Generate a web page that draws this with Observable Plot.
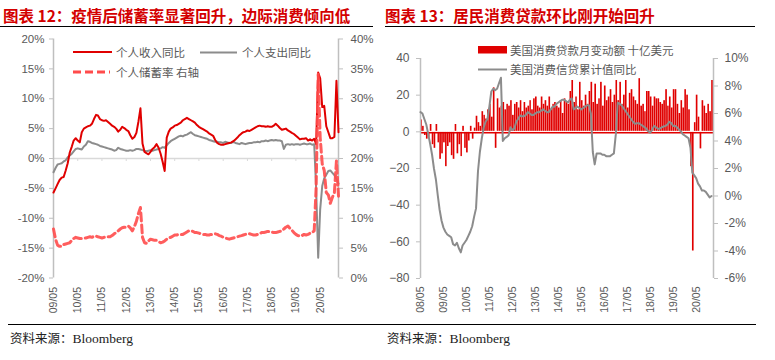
<!DOCTYPE html>
<html><head><meta charset="utf-8">
<script src="https://cdn.jsdelivr.net/npm/d3@7"></script>
<script src="https://cdn.jsdelivr.net/npm/@observablehq/plot@0.6"></script>
<style>
html,body{margin:0;padding:0;background:#fff;}
body{width:775px;height:360px;position:relative;overflow:hidden;font-family:"Liberation Sans","Noto Sans CJK SC",sans-serif;}
.abs{position:absolute;}
.title{position:absolute;top:6px;font-family:"Noto Sans CJK SC",sans-serif;font-weight:700;font-size:15.5px;color:#d40000;white-space:nowrap;line-height:18px;}
.tline{position:absolute;top:26px;height:0;border-top:1.5px solid #000;}
.foot{position:absolute;top:330px;font-size:12.5px;color:#222;white-space:nowrap;line-height:16px;}
.foot .cn{font-family:"Noto Sans CJK SC",serif;}
.foot .en{font-family:"Liberation Serif",serif;font-size:13.5px;}
.leg{position:absolute;font-family:"Noto Sans CJK SC","Liberation Sans",sans-serif;font-size:11.5px;color:#595959;white-space:nowrap;line-height:14px;}
svg.sw{position:absolute;overflow:visible;}
</style></head>
<body>
<div class="title" style="left:3px">图表 12：疫情后储蓄率显著回升，边际消费倾向低</div>
<div class="tline" style="left:0;width:373px"></div>
<div class="title" style="left:385px">图表 13：居民消费贷款环比刚开始回升</div>
<div class="tline" style="left:385px;width:370px"></div>
<div id="left" class="abs" style="left:0;top:30px"></div>
<div id="right" class="abs" style="left:385px;top:30px"></div>
<div class="tline" style="left:8px;width:748px;top:324px;border-top:1px solid #000"></div>
<div class="foot" style="left:10px"><span class="cn">资料来源：</span><span class="en">Bloomberg</span></div>
<div class="foot" style="left:387px"><span class="cn">资料来源：</span><span class="en">Bloomberg</span></div>
<script>
// ---------- Chart 12 data: monthly, starting 2009-05 ----------
const incomeYoY = [
-5.7,-5.0,-4.3,-3.6,-3.2,-3.1,-2.0,-0.8,1.0,2.0,
3.0,3.4,3.0,2.7,4.4,5.0,5.2,5.4,5.5,5.8,
6.6,7.3,7.2,6.6,6.4,6.3,6.4,6.1,5.8,5.5,
5.3,5.0,4.5,4.8,5.3,5.1,4.8,4.6,3.9,3.3,
3.6,4.3,6.2,8.4,2.5,1.1,0.9,0.7,1.1,1.6,
1.9,2.4,1.8,0.8,-0.6,-2.1,3.5,4.5,5.0,5.2,
5.5,5.6,5.8,6.0,6.4,6.6,6.8,6.6,6.4,6.2,
6.0,5.6,5.3,5.1,4.9,4.7,4.5,4.2,4.0,3.8,
3.1,2.6,2.4,2.3,2.3,2.4,2.5,2.6,2.7,2.9,
3.2,3.5,3.9,4.2,4.4,4.5,4.7,4.6,4.8,5.0,
5.2,5.4,5.5,5.4,5.4,5.3,5.4,5.3,5.3,5.5,
5.8,5.5,5.1,4.8,4.9,5.0,4.7,4.5,4.3,4.1,
3.8,3.5,3.2,3.3,3.3,3.4,3.0,3.2,3.0,3.3,
2.4,14.4,13.4,8.6,8.8,5.4,4.4,3.4,3.4,3.6,
13.0,4.4];
const spendingYoY = [
-2.3,-1.6,-1.0,-0.9,-0.8,-0.5,-0.3,0.2,0.5,0.8,
1.2,1.6,1.7,1.6,1.5,2.0,2.3,2.9,2.8,2.6,
2.5,2.4,2.3,2.1,2.0,1.9,1.8,1.7,1.6,1.5,
1.3,1.4,1.8,1.6,1.5,1.4,1.3,1.3,1.4,1.3,
1.4,1.6,1.6,1.5,1.4,1.3,1.2,1.3,1.4,1.3,
1.4,1.5,1.6,1.7,1.9,1.8,2.2,2.6,2.9,3.1,
3.3,3.5,3.7,3.8,3.7,3.9,4.0,4.2,4.4,4.1,
3.9,3.8,3.7,3.6,3.5,3.4,3.3,3.1,3.0,2.9,
2.8,2.8,2.7,2.7,2.6,2.8,2.7,2.6,2.6,2.8,
2.6,2.5,2.4,2.6,2.5,2.4,2.5,2.6,2.6,2.7,
2.7,2.8,2.7,2.9,2.9,3.0,2.9,3.0,3.1,3.0,
3.1,3.0,3.0,2.9,1.6,2.3,2.4,2.3,2.4,2.3,
2.4,2.4,2.3,2.4,2.5,2.4,2.4,2.5,2.3,2.4,
-5.0,-16.6,-8.5,-4.6,-3.3,-2.7,-2.1,-2.0,-2.4,-2.8,
-3.4,-4.2];
const savingRate = [
8.2,6.5,5.5,5.3,5.3,5.6,5.7,5.8,5.9,6.3,
6.6,6.8,6.7,6.6,6.6,6.7,6.7,6.8,6.9,6.8,
7.0,7.0,6.9,6.8,6.7,6.8,6.9,6.9,6.9,7.1,
7.4,7.6,7.9,8.2,8.4,8.5,8.5,8.7,8.4,7.9,
8.6,9.5,10.8,11.8,6.8,5.9,5.8,6.2,6.5,6.4,
6.3,6.3,6.1,5.9,6.0,6.2,6.5,6.7,6.8,7.0,
7.2,7.2,7.3,7.3,7.3,7.5,7.7,7.9,7.9,7.8,
7.6,7.6,7.5,7.4,7.3,7.3,7.2,7.2,7.3,7.3,
7.4,7.3,7.1,7.0,6.8,6.7,6.6,6.5,6.6,6.7,
6.8,6.9,7.0,7.1,7.2,7.3,7.4,7.4,7.3,7.2,
7.2,7.3,7.4,7.6,7.6,7.7,7.8,7.8,7.7,7.6,
7.6,7.7,7.8,7.9,8.2,8.5,8.7,8.3,8.0,7.6,
7.3,7.1,7.0,7.1,7.3,7.2,7.3,7.5,7.6,7.9,
15.1,34.1,23.5,19.1,18.0,14.3,13.9,12.5,13.5,14.3,
19.6,13.7];
const leftYTicks = [-20,-15,-10,-5,0,5,10,15,20];
const leftXTickYears = [2009,2010,2011,2012,2013,2014,2015,2016,2017,2018,2019,2020];

// ---------- Chart 13 data: monthly, starting 2008-05 ----------
const loanChange = [
6.5,3,-2,-4,-3,4,-7,-9,4,-6,
-15,-12,-6,-19,-8,-6,-13,-15,4,-12,
-7,-13.5,3,-9,-11.5,-5,3,-4,2,8.5,
5,3,11,9,7,12,15,8,24,-9,
18,13,14,16,12,15,14,17,9,15,
16,13,17,11,16,13,14,17,12,18,
19,14,13,19,15,17,14,19,12,15,
16,14,13,17,10,18,16,15,22,28,
16,19,12,27,17,14,20,15,22,27,
16,26,15,18,27,14,25,17,19,23,
16,20,28,17,27,15,20,28,13,21,
23,19,17,15,29,14,15,11,22,22,
19,14,19,18,18,16,15,17,23,14,
19,13,23,23,15,10,17,13,23,20,
12,-19,-65,5,20,8,-9.3,17,14,10,
15,11,28];
const creditYoY = [
6.1,6.0,5.6,5.2,4.5,3.8,3.0,2.0,1.2,0.0,
-1.0,-1.8,-2.3,-2.6,-2.8,-2.9,-3.0,-3.5,-3.6,-3.4,
-3.8,-4.1,-3.6,-3.4,-3.2,-2.9,-2.6,-2.2,-1.5,-0.9,
1.8,3.2,4.2,5.0,5.4,5.6,6.5,7.6,7.8,7.7,
7.8,8.2,8.6,4.0,4.2,4.3,4.4,5.0,4.8,4.9,
5.4,5.6,5.85,5.8,5.8,5.9,6.1,6.0,5.9,5.9,
6.0,6.1,6.1,6.2,6.3,6.2,6.1,6.1,6.3,6.5,
6.5,6.7,6.8,6.9,7.0,7.0,6.9,6.8,7.0,7.1,
6.3,6.4,6.5,6.4,6.3,6.4,6.5,6.6,6.6,6.0,
3.2,2.3,3.1,3.1,3.1,3.0,3.0,2.9,2.9,2.9,
3.0,3.1,4.5,6.8,6.7,6.6,6.4,6.2,6.0,5.8,
5.6,5.4,5.25,5.3,5.3,5.2,5.1,5.0,4.9,4.7,
4.6,4.8,5.1,5.0,4.9,4.9,5.0,5.05,5.1,5.2,
5.4,5.3,5.1,5.1,5.0,4.85,4.7,4.5,4.4,4.3,
4.2,3.5,1.7,1.5,1.3,0.9,0.7,0.4,0.4,0.3,
0.1,-0.1,0.0];
const rightYTicks = [-80,-60,-40,-20,0,20,40];
const rightPctTicks = [-6,-4,-2,0,2,4,6,8,10];
const rightXTickYears = [2008,2009,2010,2011,2012,2013,2014,2015,2016,2017,2018,2019,2020];

// ---------- helpers ----------
const AX = "#bfbfbf", TXT = "#595959", RED = "#e00000", GRAY = "#8c8c8c";
const fmtTick = d3.utcFormat("%y/%m");
const font = '"Liberation Sans","Noto Sans CJK SC",sans-serif';

// Chart 12
const start12 = new Date(Date.UTC(2009,4,1));
const left = incomeYoY.map((v,i)=>({date:d3.utcMonth.offset(start12,i), income:v, spending:spendingYoY[i], saving:savingRate[i]}));
const leftTicks = leftXTickYears.map(y=>new Date(Date.UTC(y,4,1)));
const end12 = d3.utcMonth.offset(start12, incomeYoY.length-1);
const chart12 = Plot.plot({
  width:385, height:290,
  marginTop:8.5, marginBottom:42.5, marginLeft:53, marginRight:47,
  style:{fontFamily:font, fontSize:"11.5px", color:TXT, background:"transparent", overflow:"visible"},
  x:{type:"utc", domain:[start12,end12], label:null},
  y:{domain:[-20,20], label:null},
  marks:[
    Plot.ruleY([0],{stroke:"#d9d9d9",strokeWidth:1.5}),
    Plot.ruleX(leftTicks,{y1:0,y2:-0.5,stroke:"#d9d9d9"}),
    Plot.ruleX([start12],{stroke:AX,strokeWidth:1.5}),
    Plot.ruleX([end12],{stroke:AX,strokeWidth:1.5}),
    Plot.axisY({anchor:"left",ticks:leftYTicks,tickFormat:d=>d+"%",tickSize:4,tickPadding:5,stroke:AX,fill:TXT}),
    Plot.axisY({anchor:"right",ticks:leftYTicks,tickFormat:d=>(d+20)+"%",tickSize:4,tickPadding:8,stroke:AX,fill:TXT}),
    Plot.axisX({anchor:"bottom",ticks:leftTicks,tickFormat:fmtTick,tickRotate:-90,tickSize:0,tickPadding:9,fill:TXT,fontSize:10.5}),
    Plot.lineY(left,{x:"date",y:"spending",stroke:GRAY,strokeWidth:2}),
    Plot.lineY(left,{x:"date",y:"income",stroke:RED,strokeWidth:2}),
    Plot.lineY(left,{x:"date",y:d=>d.saving-20,stroke:"#ff4b4b",strokeWidth:3,strokeDasharray:"8,4",strokeOpacity:0.9})
  ]
});
document.getElementById("left").appendChild(chart12);

// Chart 13
const start13 = new Date(Date.UTC(2008,4,1));
const right = loanChange.map((v,i)=>({date:d3.utcMonth.offset(start13,i), change:v, yoy:creditYoY[i]}));
const end13 = d3.utcMonth.offset(start13, loanChange.length);
const rightTicks = rightXTickYears.map(y=>new Date(Date.UTC(y,4,1)));
const pctToLeft = r => -80 + (r+6)*7.5;
const chart13 = Plot.plot({
  width:390, height:290,
  marginTop:28, marginBottom:42, marginLeft:35, marginRight:62,
  style:{fontFamily:font, fontSize:"11.5px", color:TXT, background:"transparent", overflow:"visible"},
  x:{type:"utc", domain:[start13,end13], label:null},
  y:{domain:[-80,40], label:null},
  marks:[
    Plot.rectY(right,{x:"date",interval:d3.utcMonth,y:"change",fill:RED,insetLeft:0.15,insetRight:0.15}),
    Plot.ruleY([0],{stroke:RED,strokeWidth:1.5,dy:1}),
    Plot.ruleY([0],{stroke:"#fff",strokeWidth:1,dy:-0.5}),
    Plot.ruleX([start13],{stroke:AX,strokeWidth:1.5}),
    Plot.ruleX([end13],{stroke:AX,strokeWidth:1.5}),
    Plot.axisY({anchor:"left",ticks:rightYTicks,tickSize:4,tickPadding:7,stroke:AX,fill:TXT,fontSize:12}),
    Plot.axisY({anchor:"right",ticks:rightPctTicks.map(pctToLeft),tickFormat:v=>Math.round((v+80)/7.5-6)+"%",tickSize:4,tickPadding:7,stroke:AX,fill:TXT,fontSize:12}),
    Plot.axisX({anchor:"bottom",ticks:rightTicks,tickFormat:fmtTick,tickRotate:-90,tickSize:0,tickPadding:8,fill:TXT,fontSize:10.5}),
    Plot.lineY(right,{x:"date",y:d=>pctToLeft(d.yoy),stroke:GRAY,strokeWidth:2})
  ]
});
document.getElementById("right").appendChild(chart13);
</script>

<!-- legends -->
<svg class="sw" width="775" height="100" style="left:0;top:0">
  <line x1="73" x2="112" y1="52" y2="52" stroke="#e00000" stroke-width="2"/>
  <line x1="200" x2="237" y1="52.5" y2="52.5" stroke="#8c8c8c" stroke-width="2"/>
  <line x1="73" x2="110" y1="72" y2="72" stroke="#ff4b4b" stroke-width="3" stroke-dasharray="8,4"/>
  <rect x="478" y="46" width="29" height="7.5" fill="#e00000"/>
  <line x1="478" x2="507" y1="69.5" y2="69.5" stroke="#8c8c8c" stroke-width="2"/>
</svg>
<div class="leg" style="left:116px;top:45px">个人收入同比</div>
<div class="leg" style="left:242px;top:45px">个人支出同比</div>
<div class="leg" style="left:116px;top:65px">个人储蓄率 右轴</div>
<div class="leg" style="left:510px;top:43px">美国消费贷款月变动额 十亿美元</div>
<div class="leg" style="left:510px;top:62px">美国消费信贷累计值同比</div>
</body></html>
